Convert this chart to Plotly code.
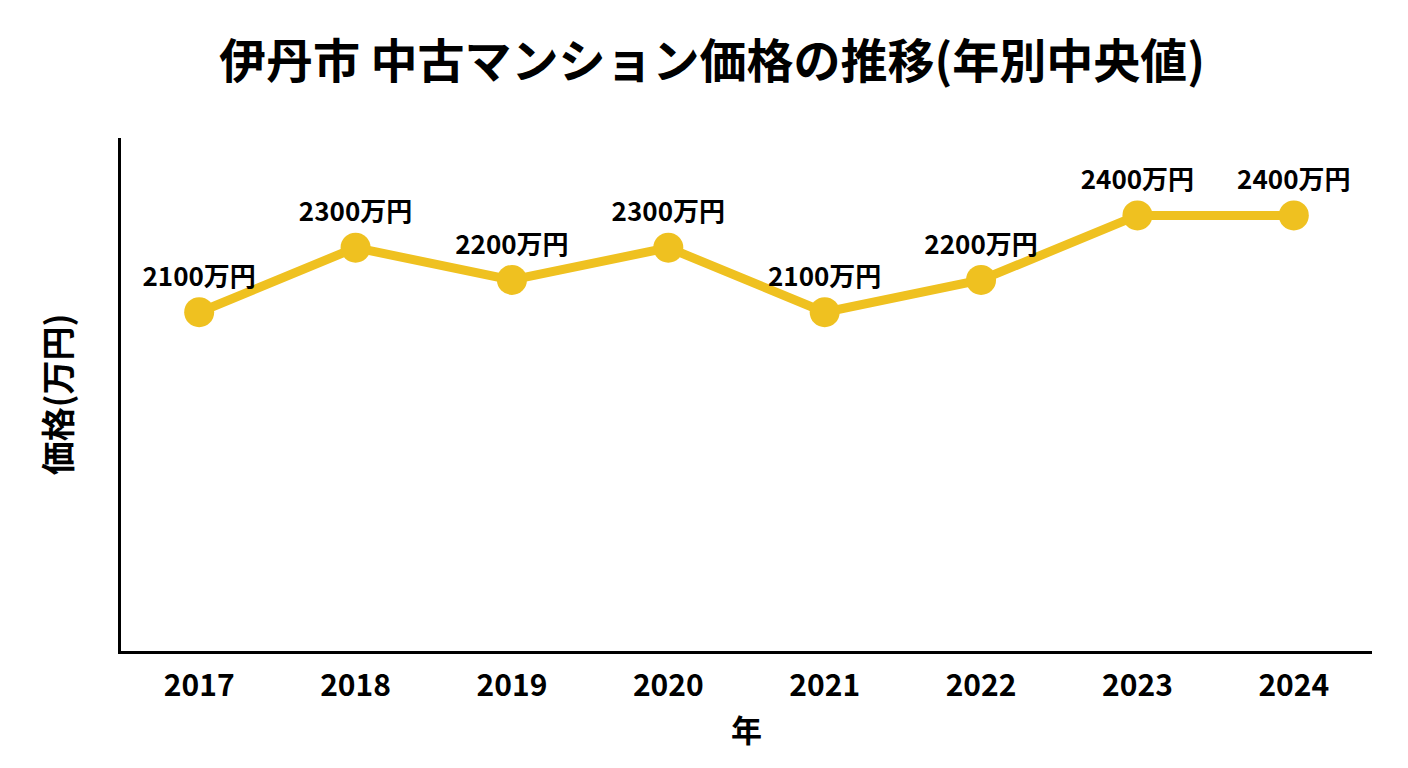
import plotly.graph_objects as go

years = ["2017", "2018", "2019", "2020", "2021", "2022", "2023", "2024"]
prices = [2100, 2300, 2200, 2300, 2100, 2200, 2400, 2400]
labels = [f"{p}万円" for p in prices]

FONT = "Noto Sans CJK JP"
YELLOW = "#EFC120"

fig = go.Figure()
fig.add_trace(
    go.Scatter(
        x=years,
        y=prices,
        mode="lines+markers+text",
        line=dict(color=YELLOW, width=9),
        marker=dict(color=YELLOW, size=30),
        text=labels,
        textposition="top center",
        textfont=dict(family=FONT, size=26, color="black", weight="bold"),
        showlegend=False,
        cliponaxis=False,
    )
)

fig.update_layout(
    width=1408,
    height=768,
    paper_bgcolor="white",
    plot_bgcolor="white",
    margin=dict(l=113, r=44, t=130, b=125),
    title=dict(
        text="伊丹市 中古マンション価格の推移(年別中央値)",
        x=0.5,
        xanchor="center",
        y=0.93,
        yanchor="middle",
        font=dict(family=FONT, size=47, color="black", weight="bold"),
    ),
    font=dict(family=FONT, color="black"),
)

fig.update_xaxes(
    type="category",
    range=[-0.5, 7.5],
    showline=True,
    linecolor="black",
    linewidth=3,
    showgrid=False,
    ticks="",
    ticklabelstandoff=6,
    tickfont=dict(family=FONT, size=30, color="black", weight="bold"),
    title=dict(text="年", font=dict(family=FONT, size=31, color="black", weight="bold"), standoff=17),
)
fig.update_yaxes(
    range=[min(prices) * 0.5, max(prices) * 1.1],
    showline=True,
    linecolor="black",
    linewidth=3,
    showgrid=False,
    zeroline=False,
    showticklabels=False,
    ticks="",
    title=dict(text="価格(万円)", font=dict(family=FONT, size=34, color="black", weight="bold"), standoff=37),
)

fig.write_html("out.html")
